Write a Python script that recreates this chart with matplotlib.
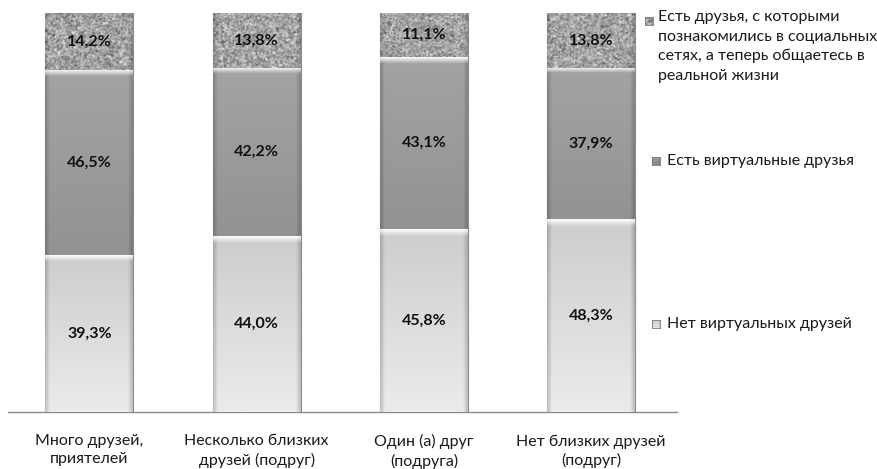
import numpy as np
import matplotlib
matplotlib.use("Agg")
import matplotlib.pyplot as plt
from matplotlib.colors import to_rgb

plt.rcParams['font.family'] = ['Lato', 'Open Sans', 'DejaVu Sans']

categories = ["Много друзей,\nприятелей", "Несколько близких\nдрузей (подруг)",
              "Один (а) друг\n(подруга)", "Нет близких друзей\n(подруг)"]
no_virtual = [39.3, 44.0, 45.8, 48.3]
virtual = [46.5, 42.2, 43.1, 37.9]
met_online = [14.2, 13.8, 11.1, 13.8]
series_names = ["Нет виртуальных друзей", "Есть виртуальные друзья",
                "Есть друзья, с которыми\nпознакомились в социальных\nсетях, а теперь общаетесь в\nреальной жизни"]

W, H = 878, 469
fig = plt.figure(figsize=(W / 100, H / 100), dpi=100)
ax = fig.add_axes([8 / W, 57 / H, 669 / W, 399 / H])

rng = np.random.default_rng(7)


def gradient_fill(top_hex, bot_hex, rows=120, cols=60, highlight=True):
    t = np.linspace(0, 1, rows)[:, None]
    top = np.array(to_rgb(top_hex))
    bot = np.array(to_rgb(bot_hex))
    img = top[None, None, :] * (1 - t[..., None]) + bot[None, None, :] * t[..., None]
    img = np.repeat(img, cols, axis=1)
    x = np.linspace(0, 1, cols)
    edge = np.clip(1 - np.minimum(x, 1 - x) / 0.05, 0, 1) * 0.18
    img = img * (1 - edge[None, :, None])
    if highlight:
        hl = np.clip(1 - np.linspace(0, 1, rows) / 0.035, 0, 1)
        img = img + (1 - img) * hl[:, None, None] * 0.9
    return np.clip(img, 0, 1)


def granite(rows=70, cols=110):
    n = rng.normal(0, 1, (rows, cols))
    k = np.array([[1, 2, 1], [2, 4, 2], [1, 2, 1]], float) / 16
    p = np.pad(n, 1, mode="wrap")
    s = sum(k[i, j] * p[i:i + rows, j:j + cols] for i in range(3) for j in range(3))
    s = s / s.std()
    v = 0.64 + 0.075 * s + 0.035 * n
    x = np.linspace(0, 1, cols)
    edge = np.clip(1 - np.minimum(x, 1 - x) / 0.05, 0, 1) * 0.15
    v = v * (1 - edge[None, :])
    img = np.clip(np.dstack([v, v, v]), 0, 1)
    return img


x = np.arange(len(categories))
width = 0.526
bottoms = np.zeros(len(categories))
layers = [
    (no_virtual, lambda: gradient_fill("#cdcdcd", "#ebebeb")),
    (virtual, lambda: gradient_fill("#a3a3a3", "#939393")),
    (met_online, lambda: granite()),
]

for vals, fill in layers:
    bars = ax.bar(x, vals, width, bottom=bottoms, color="#b0b0b0",
                  edgecolor="#8c8c8c", linewidth=0.8, zorder=2)
    for rect, v in zip(bars, vals):
        x0, y0 = rect.get_x(), rect.get_y()
        im = ax.imshow(fill(), extent=(x0, x0 + rect.get_width(), y0, y0 + rect.get_height()),
                       origin="upper", aspect="auto", interpolation="bilinear", zorder=3)
        im.set_clip_path(rect)
        ax.text(x0 + rect.get_width() / 2, y0 + rect.get_height() / 2,
                f"{v:.1f}%".replace(".", ","), ha="center", va="center",
                fontsize=11.5, fontweight="bold", color="#111111", zorder=5)
    bottoms = bottoms + np.array(vals)

ax.set_xlim(-0.487, 3.513)
ax.set_ylim(0, 100)
for s in ["top", "right", "left"]:
    ax.spines[s].set_visible(False)
ax.spines["bottom"].set_color("#8a8a8a")
ax.spines["bottom"].set_linewidth(1.0)
ax.set_yticks([])
ax.set_xticks(x)
ax.set_xticklabels(categories, fontsize=11.5, color="#1a1a1a", linespacing=1.35)
ax.tick_params(axis="x", length=0, pad=16)

# Legend entries beside the series
legend_items = [
    (series_names[2], granite(12, 12), 645, 21, 658),
    (series_names[1], gradient_fill("#9c9c9c", "#8a8a8a", 12, 12, False), 652, 161, 667),
    (series_names[0], gradient_fill("#d0d0d0", "#e2e2e2", 12, 12, False), 652, 324, 667),
]
for label, img, mx, my, tx in legend_items:
    max_ = fig.add_axes([mx / W, 1 - (my + 4) / H, 8 / W, 8 / H])
    max_.imshow(img, aspect="auto", interpolation="bilinear")
    max_.set_xticks([])
    max_.set_yticks([])
    for sp in max_.spines.values():
        sp.set_color("#7a7a7a")
        sp.set_linewidth(0.6)
    if "\n" in label:
        fig.text(tx / W, 1 - (my - 11) / H, label, fontsize=11.5, color="#1a1a1a",
                 ha="left", va="top", linespacing=1.5)
    else:
        fig.text(tx / W, 1 - my / H, label, fontsize=11.5, color="#1a1a1a",
                 ha="left", va="center")

fig.savefig("out.png", dpi=100)
